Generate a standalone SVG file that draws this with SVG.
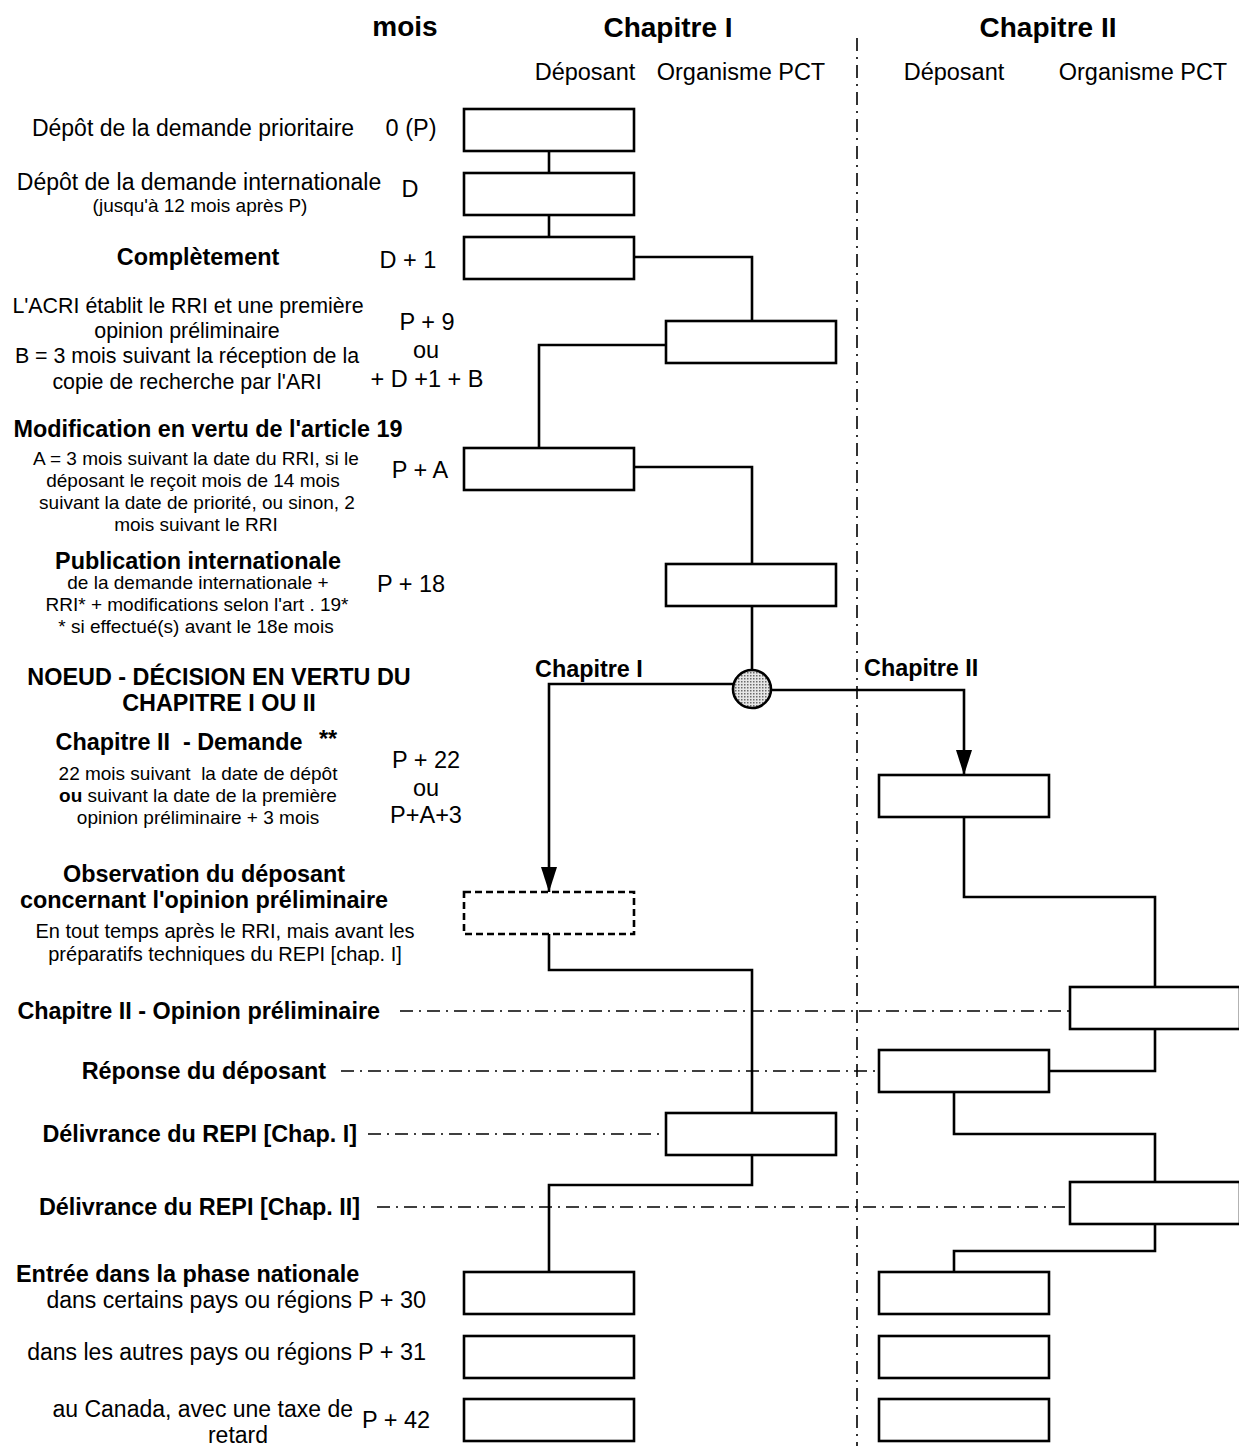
<svg xmlns="http://www.w3.org/2000/svg" width="1239" height="1446" viewBox="0 0 1239 1446">
<style>
text{font-family:"Liberation Sans",Arial,sans-serif;fill:#000}
.h{font-size:28px;font-weight:bold;text-anchor:middle}
.sh{font-size:23.5px;text-anchor:middle}
.b{font-size:23.4px;font-weight:bold;text-anchor:middle}
.be{font-size:23.4px;font-weight:bold;text-anchor:end}
.bs{font-size:23.4px;font-weight:bold}
.r{font-size:23px;text-anchor:middle}
.re{font-size:23px;text-anchor:end}
.a{font-size:21.4px;text-anchor:middle}
.s{font-size:19px;text-anchor:middle}
.t{font-size:20px;text-anchor:middle}
.m{font-size:23.5px;text-anchor:middle}
.ms{font-size:23.5px}
.box{fill:#fff;stroke:#000;stroke-width:2.6}
.dbox{fill:#fff;stroke:#000;stroke-width:2.6;stroke-dasharray:7 4}
.c{fill:none;stroke:#000;stroke-width:2.6}
.dd{fill:none;stroke:#000;stroke-width:1.6;stroke-dasharray:13 6 2 6}
</style>
<defs>
<pattern id="stip" width="3" height="3" patternUnits="userSpaceOnUse">
<rect width="3" height="3" fill="#e6e6e6"/>
<rect width="1.5" height="1.5" fill="#6a6a6a"/>
</pattern>
<marker id="arr" markerUnits="userSpaceOnUse" markerWidth="25" markerHeight="16" refX="25" refY="8" orient="auto" viewBox="0 0 25 16">
<path d="M0,0 L25,8 L0,16 Z" fill="#000"/>
</marker>
</defs>

<g id="headers">
<text class="h" x="405" y="36">mois</text>
<text class="h" x="668" y="37">Chapitre I</text>
<text class="h" x="1048" y="37">Chapitre II</text>
<text class="sh" x="585" y="80">Déposant</text>
<text class="sh" x="741" y="80">Organisme PCT</text>
<text class="sh" x="954" y="80">Déposant</text>
<text class="sh" x="1143" y="80">Organisme PCT</text>
</g>

<g id="separators">
<line class="dd" x1="857" y1="38" x2="857" y2="1446"/>
<line class="dd" x1="400" y1="1011" x2="1070" y2="1011"/>
<line class="dd" x1="341" y1="1071" x2="879" y2="1071"/>
<line class="dd" x1="368" y1="1134" x2="666" y2="1134"/>
<line class="dd" x1="377" y1="1207" x2="1070" y2="1207"/>
</g>

<g id="labels">
<text class="r" x="193" y="136">Dépôt de la demande prioritaire</text>
<text class="m" x="411" y="136">0 (P)</text>
<text class="r" x="199" y="190">Dépôt de la demande internationale</text>
<text class="s" x="200" y="212">(jusqu'à 12 mois après P)</text>
<text class="m" x="410" y="197">D</text>
<text class="b" x="198" y="265">Complètement</text>
<text class="m" x="408" y="268">D + 1</text>

<text class="a" x="188" y="313">L'ACRI établit le RRI et une première</text>
<text class="a" x="187" y="338">opinion préliminaire</text>
<text class="a" x="187" y="363">B = 3 mois suivant la réception de la</text>
<text class="a" x="187" y="389">copie de recherche par l'ARI</text>
<text class="m" x="427" y="330">P + 9</text>
<text class="m" x="426" y="358">ou</text>
<text class="m" x="427" y="387">+ D +1 + B</text>

<text class="b" x="208" y="437">Modification en vertu de l'article 19</text>
<text class="s" x="196" y="465">A = 3 mois suivant la date du RRI, si le</text>
<text class="s" x="193" y="487">déposant le reçoit mois de 14 mois</text>
<text class="s" x="197" y="509">suivant la date de priorité, ou sinon, 2</text>
<text class="s" x="196" y="531">mois suivant le RRI</text>
<text class="m" x="420" y="478">P + A</text>

<text class="b" x="198" y="569">Publication internationale</text>
<text class="s" x="198" y="589">de la demande internationale +</text>
<text class="s" x="197" y="611">RRI* + modifications selon l'art . 19*</text>
<text class="s" x="196" y="633">* si effectué(s) avant le 18e mois</text>
<text class="m" x="411" y="592">P + 18</text>

<text class="b" x="219" y="685">NOEUD - DÉCISION EN VERTU DU</text>
<text class="b" x="219" y="711">CHAPITRE I OU II</text>
<text class="b" x="179" y="750" xml:space="preserve">Chapitre II  - Demande</text>
<text class="bs" x="319" y="747">**</text>
<text class="s" x="198" y="780" xml:space="preserve">22 mois suivant  la date de dépôt</text>
<text class="s" x="198" y="802"><tspan font-weight="bold">ou</tspan> suivant la date de la première</text>
<text class="s" x="198" y="824">opinion préliminaire + 3 mois</text>
<text class="m" x="426" y="768">P + 22</text>
<text class="m" x="426" y="796">ou</text>
<text class="m" x="426" y="823">P+A+3</text>

<text class="b" x="204" y="882">Observation du déposant</text>
<text class="b" x="204" y="908">concernant l'opinion préliminaire</text>
<text class="t" x="225" y="938">En tout temps après le RRI, mais avant les</text>
<text class="t" x="225" y="961">préparatifs techniques du REPI [chap. I]</text>

<text class="be" x="380" y="1019">Chapitre II - Opinion préliminaire</text>
<text class="be" x="326" y="1079">Réponse du déposant</text>
<text class="be" x="357" y="1142">Délivrance du REPI [Chap. I]</text>
<text class="be" x="360" y="1215">Délivrance du REPI [Chap. II]</text>

<text class="bs" x="16" y="1282">Entrée dans la phase nationale</text>
<text class="re" x="352" y="1308">dans certains pays ou régions</text>
<text class="ms" x="358" y="1308">P + 30</text>
<text class="re" x="352" y="1360">dans les autres pays ou régions</text>
<text class="ms" x="358" y="1360">P + 31</text>
<text class="re" x="353" y="1417">au Canada, avec une taxe de</text>
<text class="r" x="238" y="1443">retard</text>
<text class="ms" x="362" y="1428">P + 42</text>

<text class="bs" x="535" y="677">Chapitre I</text>
<text class="bs" x="864" y="676">Chapitre II</text>
</g>

<g id="connectors">
<path class="c" d="M549,151 V173"/>
<path class="c" d="M549,215 V237"/>
<path class="c" d="M634,257 H752 V321"/>
<path class="c" d="M666,345 H539 V448"/>
<path class="c" d="M634,467 H752 V564"/>
<path class="c" d="M752,606 V670"/>
<path class="c" d="M734,684 H549 V892" marker-end="url(#arr)"/>
<path class="c" d="M770,690 H964 V775" marker-end="url(#arr)"/>
<path class="c" d="M964,817 V897 H1155 V987"/>
<path class="c" d="M549,934 V970 H752 V1113"/>
<path class="c" d="M1155,1029 V1071 H1049"/>
<path class="c" d="M954,1092 V1134 H1155 V1182"/>
<path class="c" d="M752,1155 V1185 H549 V1272"/>
<path class="c" d="M1155,1224 V1251 H954 V1272"/>
</g>

<g id="n1"><rect class="box" x="464" y="109" width="170" height="42"/></g>
<g id="n2"><rect class="box" x="464" y="173" width="170" height="42"/></g>
<g id="n3"><rect class="box" x="464" y="237" width="170" height="42"/></g>
<g id="n4"><rect class="box" x="666" y="321" width="170" height="42"/></g>
<g id="n5"><rect class="box" x="464" y="448" width="170" height="42"/></g>
<g id="n6"><rect class="box" x="666" y="564" width="170" height="42"/></g>
<g id="node-decision"><circle cx="752" cy="689" r="19" fill="url(#stip)" stroke="#000" stroke-width="2.6"/></g>
<g id="n8"><rect class="box" x="879" y="775" width="170" height="42"/></g>
<g id="n9"><rect class="dbox" x="464" y="892" width="170" height="42"/></g>
<g id="n10"><rect class="box" x="1070" y="987" width="170" height="42"/></g>
<g id="n11"><rect class="box" x="879" y="1050" width="170" height="42"/></g>
<g id="n12"><rect class="box" x="666" y="1113" width="170" height="42"/></g>
<g id="n13"><rect class="box" x="1070" y="1182" width="170" height="42"/></g>
<g id="n14"><rect class="box" x="464" y="1272" width="170" height="42"/></g>
<g id="n15"><rect class="box" x="464" y="1336" width="170" height="42"/></g>
<g id="n16"><rect class="box" x="464" y="1399" width="170" height="42"/></g>
<g id="n17"><rect class="box" x="879" y="1272" width="170" height="42"/></g>
<g id="n18"><rect class="box" x="879" y="1336" width="170" height="42"/></g>
<g id="n19"><rect class="box" x="879" y="1399" width="170" height="42"/></g>
</svg>
